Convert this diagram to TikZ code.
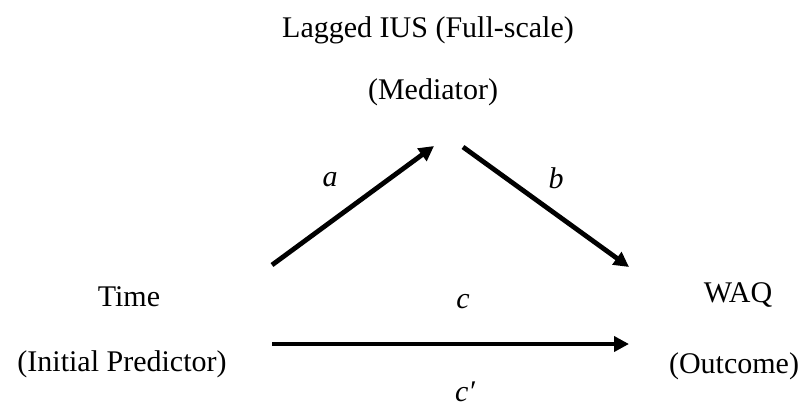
\documentclass[tikz,border=0pt]{standalone}
\usepackage{fontspec}
\setmainfont{Liberation Serif}
\usetikzlibrary{arrows.meta}
\begin{document}
\begin{tikzpicture}[x=1pt,y=-1pt,
  lbl/.style={inner sep=0pt,font=\fontsize{30}{35}\selectfont},
  coef/.style={inner sep=0pt,font=\fontsize{30}{35}\selectfont\itshape},
  path/.style={line width=4.8pt,-{Triangle[length=15pt,width=15pt]}}]
\useasboundingbox (0,0) rectangle (811,410);
\node[lbl] (medA) at (428,30) {Lagged IUS (Full-scale)};
\node[lbl] (med) at (433,92) {(Mediator)};
\node[lbl] (time) at (129,297) {Time};
\node[lbl] (pred) at (122,364) {(Initial Predictor)};
\node[lbl] (waq) at (738,295) {WAQ};
\node[lbl] (out) at (734,366) {(Outcome)};
\node[coef] (la) at (330,180) {a};
\node[coef] (lb) at (556,178) {b};
\node[coef] (lc) at (463,302) {c};
\node[coef] (lcp) at (465,392) {c′};
\coordinate (aS) at (272,265);
\coordinate (aE) at (434,146);
\coordinate (bS) at (463,147);
\coordinate (bE) at (629,267);
\coordinate (cS) at (272,344);
\coordinate (cE) at (629,344);
\draw[path] (aS) -- (aE);
\draw[path] (bS) -- (bE);
\draw[path] (cS) -- (cE);
\end{tikzpicture}
\end{document}
